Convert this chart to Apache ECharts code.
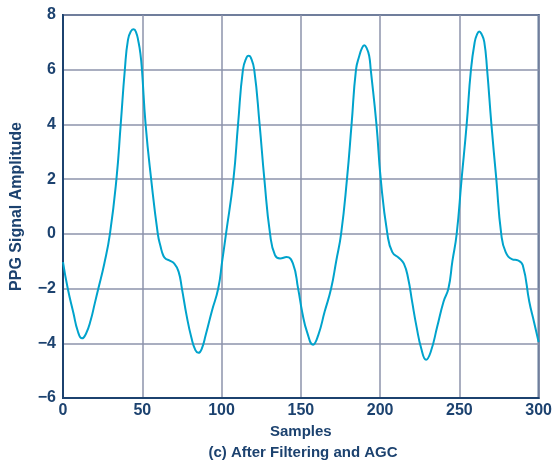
<!DOCTYPE html>
<html>
<head>
<meta charset="utf-8">
<script src="https://cdn.jsdelivr.net/npm/echarts@6/dist/echarts.min.js"></script>
<style>
  html, body { margin: 0; padding: 0; background: #fff; }
  #chart { width: 555px; height: 464px; }
</style>
</head>
<body>
<div id="chart"></div>
<script>
// sample index and amplitude
var samples = [0, 3, 6.6, 9.3, 12, 14.5, 17.5, 20, 22.3, 26, 29.6, 33.7, 36.4, 39, 41, 43, 44.6, 46.2, 47.5, 48.8,
  49.8, 52.1, 55.6, 59.8, 61.5, 63.3, 65, 67, 70.2, 72.9, 75, 78, 81, 83.5, 85.4, 87.5, 90, 94, 97.9, 100.4,
  102.8, 107.5, 110.4, 113.5, 115.8, 117.1, 118.4, 120.6, 124, 127, 130.6, 133.7, 136.9, 141, 145, 148.3, 151, 154, 157.7, 161,
  165, 169.1, 172.3, 175.4, 179.1, 182, 184.8, 186.9, 188.5, 190, 191.6, 193.1, 194.1, 197.7, 200.4, 204.6, 207.7, 211.9, 215, 217.7,
  220.2, 223, 226, 229, 232, 236, 240, 243.1, 245.6, 248.3, 251.4, 254.6, 257.3, 259.7, 261.2, 262.5, 264, 265.7, 267.5, 270.2,
  273.3, 276.4, 279.2, 283.4, 286.9, 290, 294.1, 297, 300];
var amplitude = [-1.03, -2.0, -2.9, -3.55, -3.82, -3.65, -3.15, -2.55, -2.0, -1.1, 0, 2.0, 4.0, 6.0, 7.1, 7.42, 7.48, 7.35, 7.05, 6.6,
  6.0, 4.0, 2.0, 0, -0.45, -0.8, -0.92, -0.97, -1.09, -1.38, -2.0, -3.0, -3.8, -4.25, -4.35, -4.2, -3.7, -2.8, -2.0, -1.0,
  0, 2.0, 4.0, 6.0, 6.45, 6.51, 6.45, 6.0, 4.0, 2.0, 0, -0.78, -0.9, -0.85, -1.08, -2.0, -2.9, -3.6, -4.05, -3.7,
  -2.85, -2.0, -1.0, 0, 2.0, 4.0, 6.0, 6.51, 6.78, 6.89, 6.78, 6.51, 6.0, 4.0, 2.0, 0, -0.67, -0.88, -1.09, -1.63,
  -2.48, -3.4, -4.2, -4.6, -4.3, -3.4, -2.48, -2.0, -1.0, 0, 2.0, 4.0, 6.0, 7.02, 7.3, 7.4, 7.3, 7.02, 6.0, 4.0,
  2.0, 0, -0.67, -0.93, -0.97, -1.15, -2.48, -3.2, -3.95];

var navy = '#1c426f';
var gridGray = '#8d93ab';
var font = 'Liberation Sans';

var points = [];
for (var i = 0; i < samples.length; i++) {
  points.push([samples[i], amplitude[i]]);
}

var chart = echarts.init(document.getElementById('chart'));
var option = {
  animation: false,
  title: {
    text: '(c) After Filtering and AGC',
    left: 303,
    textAlign: 'center',
    top: 445,
    padding: 0,
    textStyle: { fontFamily: font, fontWeight: 'bold', fontSize: 15, color: navy }
  },
  grid: {
    left: 63,
    right: 13,
    top: 15,
    bottom: 66,
    show: true,
    borderColor: navy,
    borderWidth: 2
  },
  xAxis: {
    type: 'value',
    min: 0,
    max: 300,
    interval: 50,
    name: 'Samples',
    nameLocation: 'middle',
    nameGap: 26,
    nameTextStyle: { fontFamily: font, fontWeight: 'bold', fontSize: 15, color: navy },
    axisLine: { show: true, onZero: false, lineStyle: { color: navy, width: 2 } },
    axisTick: { show: false },
    axisLabel: { margin: 5, fontFamily: font, fontWeight: 'bold', fontSize: 16, color: navy },
    splitLine: { show: true, lineStyle: { color: gridGray, width: 1.5 } }
  },
  yAxis: {
    type: 'value',
    min: -6,
    max: 8,
    interval: 2,
    name: 'PPG Signal Amplitude',
    nameLocation: 'middle',
    nameGap: 38,
    nameTextStyle: { fontFamily: font, fontWeight: 'bold', fontSize: 16, color: navy },
    axisLine: { show: true, onZero: false, lineStyle: { color: navy, width: 2 } },
    axisTick: { show: false },
    axisLabel: {
      margin: 7,
      fontFamily: font, fontWeight: 'bold', fontSize: 16, color: navy,
      formatter: function (v) { return String(v).replace('-', '\u2212'); }
    },
    splitLine: { show: true, lineStyle: { color: gridGray, width: 1.5 } }
  },
  series: [{
    type: 'line',
    data: points,
    smooth: 0.5,
    showSymbol: false,
    lineStyle: { color: '#00a3cc', width: 2 }
  }]
};
chart.setOption(option);
</script>
</body>
</html>
